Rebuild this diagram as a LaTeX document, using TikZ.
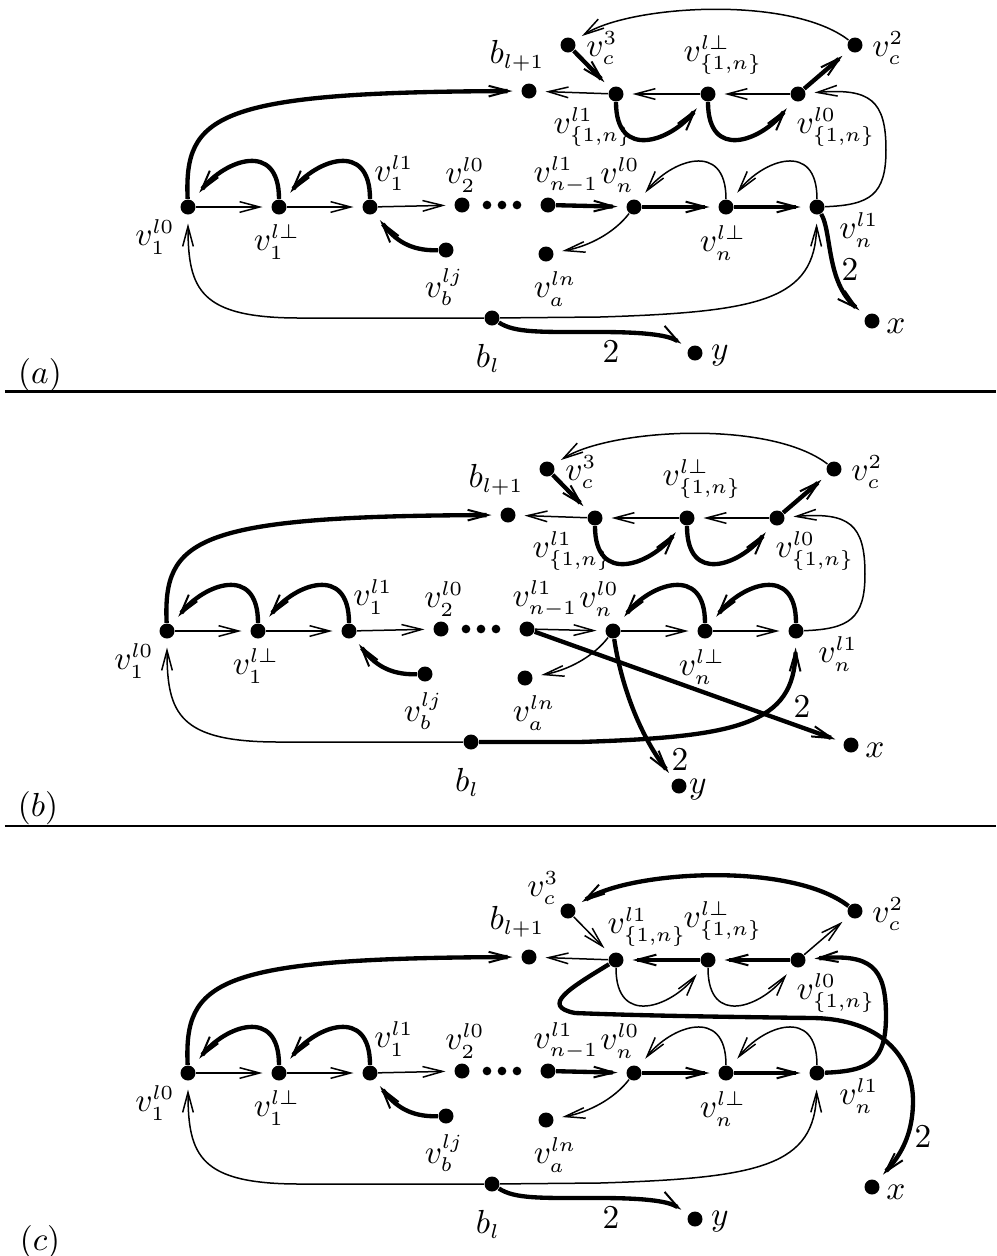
\documentclass[tikz,border=0pt]{standalone}
\usetikzlibrary{arrows.meta}
\DeclareMathSizes{10}{10}{6}{5}
\tikzset{
  dot/.style={circle,fill=black,inner sep=0pt,minimum size=4.5pt},
  sdot/.style={circle,fill=black,inner sep=0pt,minimum size=2.6pt},
  lab/.style={inner sep=0pt},
  tn/.style={line width=0.45pt,-{Straight Barb[length=6pt,width=3.2pt,line width=0.45pt]},shorten >=2.5pt},
  tk/.style={line width=1.3pt,-{Straight Barb[length=6pt,width=3.2pt,line width=0.6pt]},shorten >=2.5pt},
  arcsh/.style={shorten >=3pt},
}
\newcommand\panelcommon[1]{%
  \node[dot] (#1A) at (188,207) {};
  \node[dot] (#1B) at (279,207) {};
  \node[dot] (#1C) at (370,207) {};
  \node[dot] (#1D) at (462,205) {};
  \node[sdot] (#1d1) at (487,205) {};
  \node[sdot] (#1d2) at (502,205) {};
  \node[sdot] (#1d3) at (517,205) {};
  \node[dot] (#1E) at (548,205) {};
  \node[dot] (#1F) at (634,207) {};
  \node[dot] (#1G) at (726,207) {};
  \node[dot] (#1H) at (817,207) {};
  \node[dot] (#1Vb) at (446,250) {};
  \node[dot] (#1Va) at (546,254) {};
  \node[dot] (#1bl) at (492,318) {};
  \node[dot] (#1bk) at (529,91) {};
  \node[dot] (#1T1) at (616,94) {};
  \node[dot] (#1T2) at (708,94) {};
  \node[dot] (#1T3) at (798,94) {};
  \node[dot] (#1cc) at (568,45) {};
  \node[dot] (#1cb) at (855,45) {};
  \node[dot] (#1x) at (872,321) {};
  \node[lab] (#1lA) at (155,237) {$v_1^{l0}$};
  \node[lab] (#1lB) at (277,242) {$v_1^{l\perp}$};
  \node[lab] (#1lC) at (394,173) {$v_1^{l1}$};
  \node[lab] (#1lD) at (465,175) {$v_2^{l0}$};
  \node[lab] (#1lE) at (566,175) {$v_{n-1}^{l1}$};
  \node[lab] (#1lF) at (620,175) {$v_n^{l0}$};
  \node[lab] (#1lG) at (723,243) {$v_n^{l\perp}$};
  \node[lab] (#1lH) at (859,230) {$v_n^{l1}$};
  \node[lab] (#1lVb) at (444,287) {$v_b^{lj}$};
  \node[lab] (#1lVa) at (555,289) {$v_a^{ln}$};
  \node[lab] (#1lbl) at (488,358) {$b_l$};
  \node[lab] (#1lbk) at (517,56) {$b_{l+1}$};
  \node[lab] (#1lT2) at (723,55) {$v_{\{1,n\}}^{l\perp}$};
  \node[lab] (#1lT3) at (836,127) {$v_{\{1,n\}}^{l0}$};
  \node[lab] (#1lcb) at (888,48) {$v_c^2$};
  \node[lab] (#1lx) at (896,326) {$x$};
  \draw[tn] (#1A) -- (#1B);
  \draw[tn] (#1B) -- (#1C);
  \draw[tn] (#1C) -- (#1D);
  \draw[tk,arcsh] (#1B) .. controls +(0,-67) and +(37,-47) .. (#1A);
  \draw[tk,arcsh] (#1C) .. controls +(0,-67) and +(37,-47) .. (#1B);
  \draw[tk] (#1Vb) .. controls (410,251) and (395,240) .. (#1C);
  \draw[tk] (#1A) .. controls (184,115) and (215,92) .. (#1bk);
  \draw[tn] (#1F) .. controls (615,232) and (590,246) .. (#1Va);
  \draw[tn] (#1bl) -- (300,318) .. controls (200,318) and (188,290) .. (#1A);
  \draw[tn] (#1T1) -- (#1bk);
}
\begin{document}
\begin{tikzpicture}[x=0.3pt,y=-0.3pt]
\path[use as bounding box] (0,0) rectangle (996,1256);
% ---------- panel (a)
\begin{scope}
  \panelcommon{a}
  \node[dot] (ay) at (695,353) {};
  \node[lab] (aly) at (720,356) {$y$};
  \node[lab] (alT1) at (593,127) {$v_{\{1,n\}}^{l1}$};
  \node[lab] (alcc) at (602,48) {$v_c^3$};
  \draw[tn] (aT3) -- (aT2);
  \draw[tn] (aT2) -- (aT1);
  \draw[tk,arcsh] (aT1) .. controls +(0,67) and +(-37,47) .. (aT2);
  \draw[tk,arcsh] (aT2) .. controls +(0,67) and +(-37,47) .. (aT3);
  \draw[tk] (acc) -- (aT1);
  \draw[tk] (aT3) -- (acb);
  \draw[tn] (acb) .. controls (790,-5) and (630,5) .. (acc);
  \draw[tn] (aH) .. controls (870,205) and (886,195) .. (886,150) .. controls (886,100) and (870,88) .. (aT3);
  \draw[tk] (aE) -- (aF);
  \draw[tk] (aF) -- (aG);
  \draw[tk] (aG) -- (aH);
  \draw[tn,arcsh] (aG) .. controls +(0,-67) and +(37,-47) .. (aF);
  \draw[tn,arcsh] (aH) .. controls +(0,-67) and +(37,-47) .. (aG);
  \draw[tn] (abl) -- (600,317) .. controls (760,312) and (815,300) .. (aH);
  \draw[tk] (abl) .. controls (515,333) and (540,332) .. (600,332) .. controls (650,332) and (670,336) .. (ay);
  \draw[tk] (aH) .. controls (832,232) and (826,282) .. (ax);
  \node[lab] (aw1) at (611,352) {$2$};
  \node[lab] (aw2) at (850,270) {$2$};
\end{scope}
\node[lab] (pa) at (40,375) {$(a)$};
\draw[line width=0.9pt] (5,391.5) -- (996,391.5);
% ---------- panel (b)
\begin{scope}[shift={(-21,424)}]
  \panelcommon{b}
  \node[dot] (by) at (700,362) {};
  \node[lab] (bly) at (719,366) {$y$};
  \node[lab] (blT1) at (593,127) {$v_{\{1,n\}}^{l1}$};
  \node[lab] (blcc) at (602,48) {$v_c^3$};
  \draw[tn] (bT3) -- (bT2);
  \draw[tn] (bT2) -- (bT1);
  \draw[tk,arcsh] (bT1) .. controls +(0,67) and +(-37,47) .. (bT2);
  \draw[tk,arcsh] (bT2) .. controls +(0,67) and +(-37,47) .. (bT3);
  \draw[tk] (bcc) -- (bT1);
  \draw[tk] (bT3) -- (bcb);
  \draw[tn] (bcb) .. controls (790,-5) and (630,5) .. (bcc);
  \draw[tn] (bH) .. controls (870,205) and (886,195) .. (886,150) .. controls (886,100) and (870,88) .. (bT3);
  \draw[tn] (bE) -- (bF);
  \draw[tn] (bF) -- (bG);
  \draw[tn] (bG) -- (bH);
  \draw[tk,arcsh] (bG) .. controls +(0,-67) and +(37,-47) .. (bF);
  \draw[tk,arcsh] (bH) .. controls +(0,-67) and +(37,-47) .. (bG);
  \draw[tk] (bbl) -- (600,318) .. controls (760,313) and (815,300) .. (bH);
  \draw[tk] (bE) -- (bx);
  \draw[tk] (bF) .. controls (642,260) and (660,310) .. (by);
  \node[lab] (bw1) at (701,336) {$2$};
  \node[lab] (bw2) at (823,283) {$2$};
\end{scope}
\node[lab] (pb) at (38,808) {$(b)$};
\draw[line width=0.6pt] (5,826) -- (996,826);
% ---------- panel (c)
\begin{scope}[shift={(0,866)}]
  \panelcommon{c}
  \node[dot] (cy) at (695,353) {};
  \node[lab] (cly) at (720,356) {$y$};
  \node[lab] (clT1) at (647,61) {$v_{\{1,n\}}^{l1}$};
  \node[lab] (clcc) at (543,22) {$v_c^3$};
  \draw[tk] (cT3) -- (cT2);
  \draw[tk] (cT2) -- (cT1);
  \draw[tn,arcsh] (cT1) .. controls +(0,67) and +(-37,47) .. (cT2);
  \draw[tn,arcsh] (cT2) .. controls +(0,67) and +(-37,47) .. (cT3);
  \draw[tn] (ccc) -- (cT1);
  \draw[tn] (cT3) -- (ccb);
  \draw[tk] (ccb) .. controls (790,-5) and (630,5) .. (ccc);
  \draw[tk] (cH) .. controls (870,205) and (886,195) .. (886,150) .. controls (886,100) and (870,88) .. (cT3);
  \draw[tk] (cE) -- (cF);
  \draw[tk] (cF) -- (cG);
  \draw[tk] (cG) -- (cH);
  \draw[tn,arcsh] (cG) .. controls +(0,-67) and +(37,-47) .. (cF);
  \draw[tn,arcsh] (cH) .. controls +(0,-67) and +(37,-47) .. (cG);
  \draw[tn] (cbl) -- (600,317) .. controls (760,312) and (815,300) .. (cH);
  \draw[tk] (cbl) .. controls (515,333) and (540,332) .. (600,332) .. controls (650,332) and (670,336) .. (cy);
  \draw[tk] (cT1) .. controls (570,122) and (540,140) .. (575,147) .. controls (650,150) and (740,151) .. (813,152) .. controls (880,153) and (913,190) .. (913,235) .. controls (913,275) and (895,295) .. (cx);
  \node[lab] (cw1) at (611,352) {$2$};
  \node[lab] (cw2) at (923,271) {$2$};
\end{scope}
\node[lab] (pc) at (40,1242) {$(c)$};
\end{tikzpicture}
\end{document}
